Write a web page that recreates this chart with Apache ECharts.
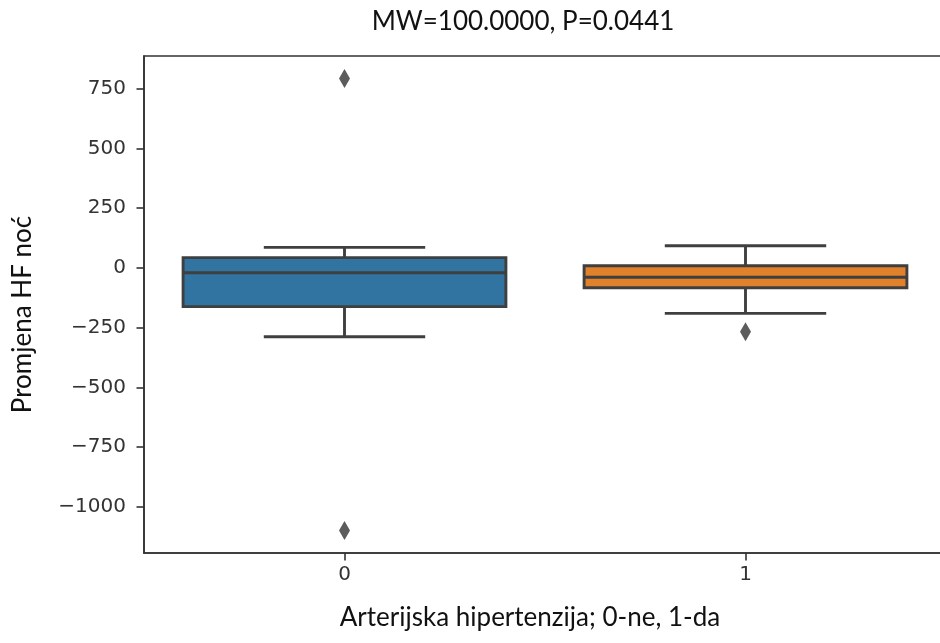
<!DOCTYPE html>
<html>
<head>
<meta charset="utf-8">
<script src="https://cdn.jsdelivr.net/npm/echarts@6/dist/echarts.min.js"></script>
<style>html,body{margin:0;padding:0;background:#fff;}#chart{width:940px;height:643px;}</style>
</head>
<body>
<div id="chart"></div>
<script>
// ---- data ----
const categories = ['0', '1'];
const whiskerLow  = [-288, -190];
const q1          = [-162, -83];
const medians     = [-20, -39];
const q3          = [43, 9];
const whiskerHigh = [86, 93];
const outlierCategory = [0, 0, 1];
const outlierValues   = [792, -1098, -267];
const yTicks = [-1000, -750, -500, -250, 0, 250, 500, 750];
const yMin = -1192.5;
const yMax = 886.5;
const titleText = 'MW=100.0000, P=0.0441';
const xName = 'Arterijska hipertenzija; 0-ne, 1-da';
const yName = 'Promjena HF noć';

// ---- styles ----
const boxColors = ['#3274a1', '#e1812c'];
const lineColor = '#3f3f3f';
const spineColor = '#333333';
const textFont = 'Lato';

const boxData = categories.map((c, i) => [i, whiskerLow[i], q1[i], medians[i], q3[i], whiskerHigh[i]]);
const outlierData = outlierCategory.map((c, i) => [c, outlierValues[i]]);

const chart = echarts.init(document.getElementById('chart'), null, {renderer: 'canvas'});

function renderBox(params, api) {
  const idx = api.value(0);
  const band = api.size([1, 0])[0];
  const bw = band * 0.805;
  const cw = bw / 2;
  const pLow = api.coord([idx, api.value(1)]);
  const pQ1 = api.coord([idx, api.value(2)]);
  const pMed = api.coord([idx, api.value(3)]);
  const pQ3 = api.coord([idx, api.value(4)]);
  const pHigh = api.coord([idx, api.value(5)]);
  const x = pMed[0];
  const lw = 2.9;
  const ls = {stroke: lineColor, lineWidth: lw};
  return {
    type: 'group',
    children: [
      {type: 'line', shape: {x1: x, y1: pQ3[1], x2: x, y2: pHigh[1]}, style: ls},
      {type: 'line', shape: {x1: x, y1: pQ1[1], x2: x, y2: pLow[1]}, style: ls},
      {type: 'line', shape: {x1: x - cw / 2, y1: pHigh[1], x2: x + cw / 2, y2: pHigh[1]}, style: ls},
      {type: 'line', shape: {x1: x - cw / 2, y1: pLow[1], x2: x + cw / 2, y2: pLow[1]}, style: ls},
      {type: 'rect', shape: {x: x - bw / 2, y: pQ3[1], width: bw, height: pQ1[1] - pQ3[1]},
        style: {fill: boxColors[idx], stroke: lineColor, lineWidth: lw}},
      {type: 'line', shape: {x1: x - bw / 2, y1: pMed[1], x2: x + bw / 2, y2: pMed[1]}, style: ls}
    ]
  };
}

const option = {
  backgroundColor: '#ffffff',
  animation: false,
  title: {
    text: titleText,
    left: 523,
    top: 9,
    padding: 0,
    textAlign: 'center',
    textStyle: {fontFamily: textFont, fontSize: 26, fontWeight: 'normal', color: '#111'}
  },
  grid: {
    left: 144, width: 802, top: 56, height: 497,
    outerBoundsMode: 'none',
    containLabel: false,
    show: true, borderColor: spineColor, borderWidth: 1.6, backgroundColor: 'transparent'
  },
  xAxis: {
    type: 'category',
    data: categories,
    boundaryGap: true,
    name: xName,
    nameLocation: 'middle',
    nameGap: 52,
    nameTextStyle: {fontFamily: textFont, fontSize: 26, color: '#111', padding: [0, 30, 0, 0]},
    axisLine: {show: true, onZero: false, lineStyle: {color: spineColor, width: 1.6}},
    axisTick: {show: true, alignWithLabel: true, length: 7.5, lineStyle: {color: spineColor, width: 1.6}},
    axisLabel: {fontFamily: 'DejaVu Sans', fontSize: 20, color: '#333', margin: 12},
    splitLine: {show: false}
  },
  yAxis: {
    type: 'value',
    min: yMin,
    max: yMax,
    name: yName,
    nameLocation: 'middle',
    nameGap: 108,
    nameRotate: 90,
    nameTextStyle: {fontFamily: textFont, fontSize: 26, color: '#111', padding: [0, 20, 0, 0]},
    axisLine: {show: true, onZero: false, lineStyle: {color: spineColor, width: 1.6}},
    axisTick: {show: true, length: 7.5, customValues: yTicks, lineStyle: {color: spineColor, width: 1.6}},
    axisLabel: {
      fontFamily: 'DejaVu Sans', fontSize: 20, color: '#333', margin: 18,
      customValues: yTicks,
      formatter: v => String(v).replace('-', '\u2212')
    },
    splitLine: {show: false}
  },
  series: [
    {
      type: 'custom',
      renderItem: renderBox,
      encode: {x: 0, y: [1, 2, 3, 4, 5]},
      data: boxData,
      z: 2
    },
    {
      type: 'scatter',
      data: outlierData,
      symbol: 'diamond',
      symbolSize: [11, 19],
      itemStyle: {color: '#333333'},
      z: 3
    }
  ]
};
chart.setOption(option);
</script>
</body>
</html>
